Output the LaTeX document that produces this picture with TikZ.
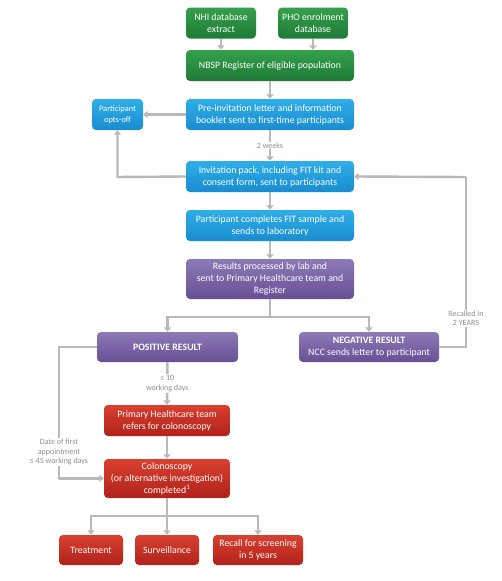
\documentclass[tikz,border=0pt]{standalone}
\usepackage{fontspec}
\setmainfont{Carlito}
\usetikzlibrary{arrows.meta}
\definecolor{gtop}{HTML}{35A04C}
\definecolor{gbot}{HTML}{1E7A36}
\definecolor{btop}{HTML}{2EAEE8}
\definecolor{bbot}{HTML}{1A8CD0}
\definecolor{ptop}{HTML}{8C7AB6}
\definecolor{pbot}{HTML}{684F95}
\definecolor{rtop}{HTML}{D9402F}
\definecolor{rbot}{HTML}{B0221B}
\definecolor{conn}{HTML}{B9B9B9}
\definecolor{lbl}{HTML}{8E8E8E}
\begin{document}
\begin{tikzpicture}[x=1pt,y=-1pt,
  box/.style={rounded corners=4pt,text=white,align=center,inner sep=1pt,
    font=\fontsize{9.8}{12}\selectfont,minimum height=31pt},
  gbox/.style={box,top color=gtop,bottom color=gbot},
  bbox/.style={box,top color=btop,bottom color=bbot},
  pbox/.style={box,top color=ptop,bottom color=pbot},
  rbox/.style={box,top color=rtop,bottom color=rbot},
  arr/.style={draw=conn,line width=2.4pt,-{Triangle[width=7pt,length=4.5pt]}},
  ln/.style={draw=conn,line width=2.4pt},
  lab/.style={fill=white,text=lbl,align=center,inner sep=1pt,font=\fontsize{8}{9.5}\selectfont}]
\useasboundingbox[fill=white] (0,0) rectangle (502,581);
% nodes
\node[gbox,minimum width=70pt] (nhi) at (221,23) {NHI database\\extract};
\node[gbox,minimum width=70pt] (pho) at (313,23) {PHO enrolment\\database};
\node[gbox,minimum width=168pt] (nbsp) at (270,65.5) {NBSP Register of eligible population};
\node[bbox,minimum width=168pt] (pre) at (270,114.5) {Pre-invitation letter and information\\booklet sent to first-time participants};
\node[bbox,minimum width=51pt,font=\fontsize{8.4}{11}\selectfont] (opts) at (117.5,114.5) {Participant\\opts-off};
\node[bbox,minimum width=168pt] (inv) at (270,176.5) {Invitation pack, including FIT kit and\\consent form, sent to participants};
\node[bbox,minimum width=168pt] (fit) at (270,225.5) {Participant completes FIT sample and\\sends to laboratory};
\node[pbox,minimum width=168pt,minimum height=40pt] (res) at (270,279) {Results processed by lab and\\sent to Primary Healthcare team and\\Register};
\node[pbox,minimum width=141pt,minimum height=30pt] (pos) at (167.5,347) {\textbf{POSITIVE RESULT}};
\node[pbox,minimum width=140pt,minimum height=30pt] (neg) at (369,347) {\textbf{NEGATIVE RESULT}\\NCC sends letter to participant};
\node[rbox,minimum width=126pt] (phc) at (167,420.5) {Primary Healthcare team\\refers for colonoscopy};
\node[rbox,minimum width=126pt,minimum height=39pt] (col) at (167,478.5) {Colonoscopy\\(or alternative investigation)\\completed\textsuperscript{1}};
\node[rbox,minimum width=64pt,minimum height=30pt] (treat) at (91,550) {Treatment};
\node[rbox,minimum width=64pt,minimum height=30pt] (surv) at (167,550) {Surveillance};
\node[rbox,minimum width=90pt,minimum height=30pt] (recall) at (258,550) {Recall for screening\\in 5 years};
% coordinates
\coordinate (rb) at (270,317);
\coordinate (cb) at (167,516);
\coordinate (optsx) at (117.5,177);
\coordinate (negr) at (466,347);
\coordinate (negt) at (466,177);
\coordinate (posl) at (59,347);
\coordinate (posb) at (59,478.5);
% connectors
\draw[arr] (nhi.south) -- (nhi.south |- nbsp.north);
\draw[arr] (pho.south) -- (pho.south |- nbsp.north);
\draw[arr] (nbsp) -- (pre);
\draw[arr] (pre) -- (opts);
\draw[arr] (pre) -- node[lab,pos=0.5]{2 weeks} (inv);
\draw[arr] (inv.west) -- (optsx) -- (opts.south);
\draw[arr] (inv) -- (fit);
\draw[arr] (fit) -- (res);
\draw[ln] (res.south) -- (rb);
\draw[arr] (rb) -| (pos.north);
\draw[arr] (rb) -| (neg.north);
\draw[ln] (neg.east) -- (negr) -- node[lab,pos=0.17]{Recalled in\\2 YEARS} (negt);
\draw[arr] (negt) -- (inv.east);
\draw[arr] (pos) -- node[lab,pos=0.5]{≤ 10\\working days} (phc);
\draw[ln] (pos.west) -- (posl) -- node[lab,pos=0.8]{Date of first\\appointment\\≤ 45 working days} (posb);
\draw[arr] (posb) -- (col.west);
\draw[arr] (phc) -- (col);
\draw[ln] (col.south) -- (cb);
\draw[arr] (cb) -| (treat.north);
\draw[arr] (cb) -- (surv.north);
\draw[arr] (cb) -| (recall.north);
\end{tikzpicture}
\end{document}
